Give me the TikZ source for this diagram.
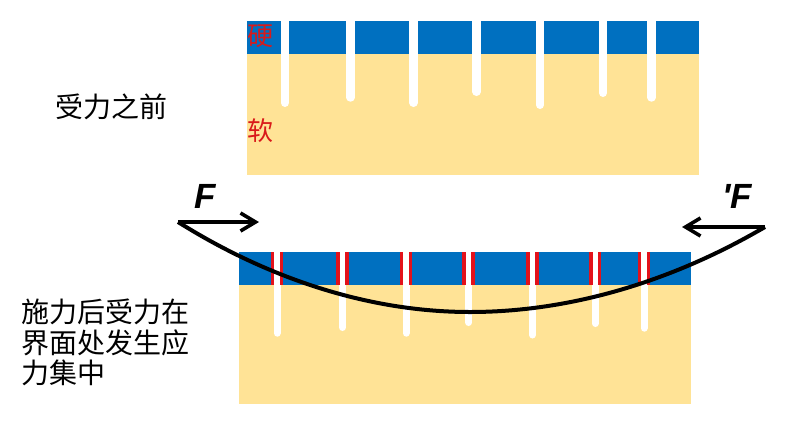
\documentclass[tikz,border=0pt]{standalone}
\usepackage{fontspec}
\setmainfont{Liberation Sans}
\newfontfamily\cjk{Noto Sans CJK SC}
\newfontfamily\forcefont[Ligatures=TeXOff]{Liberation Sans}
\usetikzlibrary{arrows.meta}
\definecolor{hardblue}{HTML}{0070C0}
\definecolor{softyellow}{HTML}{FFE396}
\definecolor{crackred}{HTML}{E3121B}
\definecolor{labelred}{HTML}{D91A1A}
\tikzset{
  cjktext/.style={font=\cjk\fontsize{28}{30.5}\selectfont, inner sep=0pt, text=black},
  matlabel/.style={font=\cjk\fontsize{26}{28}\selectfont, inner sep=0pt, text=labelred},
  forcelabel/.style={font=\forcefont\bfseries\itshape\fontsize{35}{38}\selectfont, inner sep=0pt},
  crack/.style={draw=white, line width=#1, line cap=round},
  forceline/.style={draw=black, line width=4pt},
  forcearrow/.style={draw=black, line width=3.6pt, -{Straight Barb[length=15pt,width=18pt,line width=3.6pt]}},
}
\begin{document}
\begin{tikzpicture}[x=1pt,y=-1pt]
\useasboundingbox (0,0) rectangle (800,426);
% ---------- top panel (before loading)
\fill[softyellow] (247,54) rectangle (699,175);
\fill[hardblue] (247,21) rectangle (699,54);
\foreach \c/\b in {284.8/107, 350.5/101.7, 413.5/107, 476.5/96, 540/109, 603/97, 651.5/101.7}
  \draw[crack=8.2pt] (\c,17) -- (\c,{\b-4.1});
\node[matlabel] (hard) at (260.5,36) {硬};
\node[matlabel] (soft) at (260.5,131) {软};
\node[cjktext, anchor=west] (before) at (55.5,106.5) {受力之前};
% ---------- bottom panel (after loading)
\fill[softyellow] (239,285) rectangle (691,404);
\fill[hardblue] (239,251.7) rectangle (691,285);
\foreach \c/\b in {277/336.7, 342.5/331, 406/336.7, 468.7/326, 532.5/338.5, 595.3/327, 644/331.7}{
  \draw[crack=7pt] (\c,246) -- (\c,{\b-3.5});
  \fill[crackred] ({\c-6.3},251.7) rectangle ({\c-2.8},285);
  \fill[crackred] ({\c+2.6},251.7) rectangle ({\c+6.1},285);
}
\node[cjktext, align=left, anchor=north west] (after) at (21,299) {施力后受力在\\界面处发生应\\力集中};
% ---------- forces and bending curve
\coordinate (Ltail) at (178,222);
\coordinate (Ltip) at (259,222);
\coordinate (Rtail) at (765,227);
\coordinate (Rtip) at (682,227);
\coordinate (bend) at (470,312);
\draw[forceline] (Ltail) parabola bend (bend) (Rtail);
\draw[forcearrow] (Ltail) -- (Ltip);
\draw[forcearrow] (Rtail) -- (Rtip);
\node[forcelabel, anchor=base west] (F1) at (194,208.3) {F};
\node[forcelabel, anchor=base west] (F2) at (722,208.3) {'F};
\end{tikzpicture}
\end{document}
